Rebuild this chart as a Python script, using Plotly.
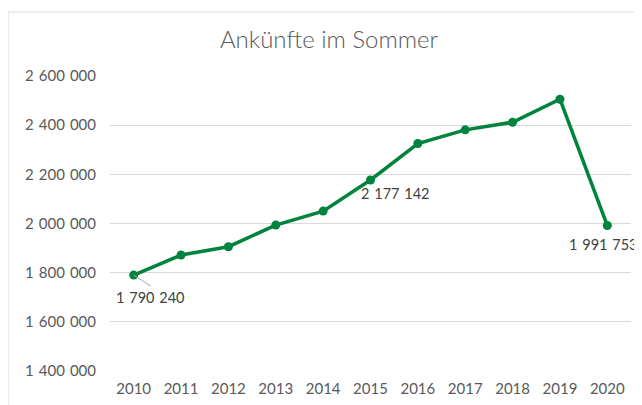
import plotly.graph_objects as go

years = ["2010", "2011", "2012", "2013", "2014", "2015", "2016", "2017", "2018", "2019", "2020"]
arrivals = [1790240, 1871800, 1905600, 1993600, 2050500, 2177142, 2325400, 2380900, 2412000, 2505500, 1991753]
y_ticks = [1400000, 1600000, 1800000, 2000000, 2200000, 2400000, 2600000]
labelled_years = ["2010", "2015", "2020"]

SEP = "\u2004"


def fmt(v):
    return f"{v:,}".replace(",", SEP)


FONT = "Lato"
GREEN = "#00843D"
FS = 15

fig = go.Figure()
fig.add_trace(go.Scatter(
    x=years, y=arrivals, mode="lines+markers",
    line=dict(color=GREEN, width=3.5),
    marker=dict(color=GREEN, size=9),
    hoverinfo="skip", showlegend=False,
))

offsets = {"2010": (17, -22), "2015": (25, -14), "2020": (-4, -19)}
for yr in labelled_years:
    i = years.index(yr)
    v = arrivals[i]
    dx, dy = offsets[yr]
    fig.add_annotation(x=i, y=v, xref="x", yref="y", text=fmt(v), showarrow=False,
                       xshift=dx, yshift=dy, font=dict(family=FONT, size=14.5, color="#404040"))

# leader line for 2010 label
fig.add_shape(type="line", xref="x", yref="y", xsizemode="pixel", ysizemode="pixel",
              xanchor=0, yanchor=arrivals[0], x0=0, y0=0, x1=17, y1=-11,
              line=dict(color="#A6A6A6", width=1))

# chart border
fig.add_shape(type="rect", xref="paper", yref="paper", x0=-0.1958, x1=1.2, y0=-0.3, y1=1.217,
              line=dict(color="#D9D9D9", width=1), layer="below")

fig.update_layout(
    width=642, height=405,
    margin=dict(l=102, r=19, t=68, b=42),
    paper_bgcolor="white", plot_bgcolor="white",
    title=dict(text="Ankünfte im Sommer", x=321 / 642, xanchor="center", xref="container",
               y=1 - 32 / 405, yanchor="middle", yref="container",
               font=dict(family=FONT, size=24, weight=300, color="#595959")),
    xaxis=dict(type="category", range=[-0.5, len(years) - 0.5], autorange=False,
               showgrid=False, showline=False, ticks="", ticklabelstandoff=7,
               tickfont=dict(family=FONT, size=FS, color="#595959"), fixedrange=True),
    yaxis=dict(range=[y_ticks[0], y_ticks[-1]], autorange=False, tickvals=y_ticks,
               ticktext=[fmt(t) for t in y_ticks],
               showgrid=True, gridcolor="#D9D9D9", gridwidth=1, zeroline=False, showline=False,
               ticks="", ticklabelstandoff=13,
               tickfont=dict(family=FONT, size=FS, color="#595959"), fixedrange=True),
)

fig.write_html("out.html")
